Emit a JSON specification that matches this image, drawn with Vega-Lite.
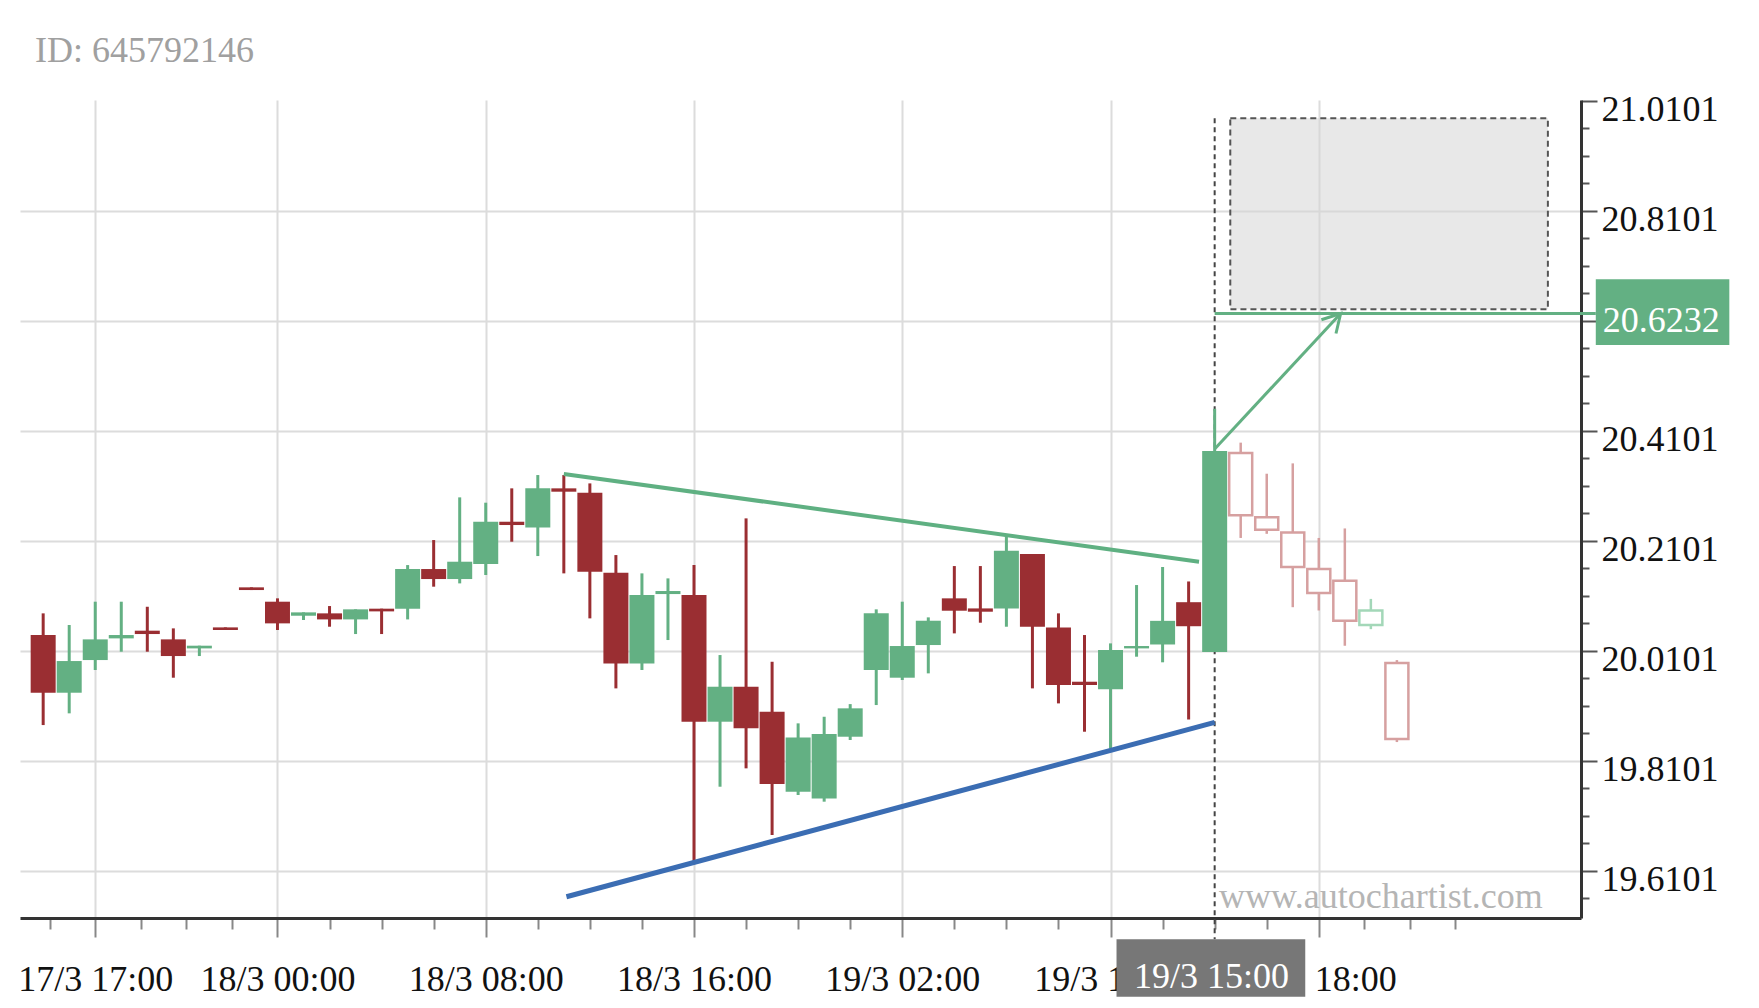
{
  "$schema": "https://vega.github.io/schema/vega-lite/v6.json",
  "width": 1561,
  "height": 818,
  "autosize": {"type": "none"},
  "padding": {"left": 20, "top": 100, "right": 178, "bottom": 90},
  "background": "white",
  "title": {"text": "ID: 645792146", "anchor": "start", "frame": "group", "font": "Liberation Serif", "fontSize": 36, "fontWeight": "normal", "color": "#a0a0a0", "baseline": "alphabetic", "offset": -6, "dx": 15},
  "config": {"view": {"stroke": null}},
  "datasets": {
    "candles": [
      {"i": 0, "o": 20.0386, "h": 20.0780, "l": 19.8749, "c": 19.9337},
      {"i": 1, "o": 19.9337, "h": 20.0568, "l": 19.8962, "c": 19.9913},
      {"i": 2, "o": 19.9931, "h": 20.0992, "l": 19.9750, "c": 20.0307},
      {"i": 3, "o": 20.0325, "h": 20.0992, "l": 20.0083, "c": 20.0386},
      {"i": 4, "o": 20.0465, "h": 20.0900, "l": 20.0083, "c": 20.0404},
      {"i": 5, "o": 20.0307, "h": 20.0507, "l": 19.9610, "c": 20.0004},
      {"i": 6, "o": 20.0143, "h": 20.0192, "l": 20.0004, "c": 20.0192},
      {"i": 7, "o": 20.0525, "h": 20.0525, "l": 20.0477, "c": 20.0477},
      {"i": 8, "o": 20.1253, "h": 20.1253, "l": 20.1204, "c": 20.1204},
      {"i": 9, "o": 20.0992, "h": 20.1053, "l": 20.0477, "c": 20.0598},
      {"i": 10, "o": 20.0737, "h": 20.0798, "l": 20.0659, "c": 20.0798},
      {"i": 11, "o": 20.0780, "h": 20.0913, "l": 20.0537, "c": 20.0670},
      {"i": 12, "o": 20.0670, "h": 20.0853, "l": 20.0404, "c": 20.0853},
      {"i": 13, "o": 20.0865, "h": 20.0865, "l": 20.0404, "c": 20.0816},
      {"i": 14, "o": 20.0865, "h": 20.1658, "l": 20.0670, "c": 20.1586},
      {"i": 15, "o": 20.1586, "h": 20.2113, "l": 20.1265, "c": 20.1404},
      {"i": 16, "o": 20.1404, "h": 20.2889, "l": 20.1325, "c": 20.1719},
      {"i": 17, "o": 20.1677, "h": 20.2792, "l": 20.1477, "c": 20.2446},
      {"i": 18, "o": 20.2446, "h": 20.3053, "l": 20.2083, "c": 20.2386},
      {"i": 19, "o": 20.2343, "h": 20.3295, "l": 20.1822, "c": 20.3053},
      {"i": 20, "o": 20.3053, "h": 20.3295, "l": 20.1507, "c": 20.2992},
      {"i": 21, "o": 20.2974, "h": 20.3143, "l": 20.0689, "c": 20.1537},
      {"i": 22, "o": 20.1519, "h": 20.1840, "l": 19.9416, "c": 19.9870},
      {"i": 23, "o": 19.9870, "h": 20.1507, "l": 19.9750, "c": 20.1113},
      {"i": 24, "o": 20.1131, "h": 20.1416, "l": 20.0295, "c": 20.1186},
      {"i": 25, "o": 20.1113, "h": 20.1658, "l": 19.6240, "c": 19.8810},
      {"i": 26, "o": 19.8810, "h": 20.0022, "l": 19.7628, "c": 19.9446},
      {"i": 27, "o": 19.9446, "h": 20.2507, "l": 19.7962, "c": 19.8689},
      {"i": 28, "o": 19.8990, "h": 19.9900, "l": 19.6750, "c": 19.7677},
      {"i": 29, "o": 19.7537, "h": 19.8780, "l": 19.7477, "c": 19.8525},
      {"i": 30, "o": 19.7416, "h": 19.8900, "l": 19.7356, "c": 19.8586},
      {"i": 31, "o": 19.8537, "h": 19.9130, "l": 19.8477, "c": 19.9053},
      {"i": 32, "o": 19.9750, "h": 20.0853, "l": 19.9113, "c": 20.0780},
      {"i": 33, "o": 19.9610, "h": 20.0992, "l": 19.9568, "c": 20.0186},
      {"i": 34, "o": 20.0204, "h": 20.0707, "l": 19.9689, "c": 20.0646},
      {"i": 35, "o": 20.1053, "h": 20.1640, "l": 20.0416, "c": 20.0828},
      {"i": 36, "o": 20.0870, "h": 20.1640, "l": 20.0610, "c": 20.0810},
      {"i": 37, "o": 20.0870, "h": 20.2174, "l": 20.0537, "c": 20.1919},
      {"i": 38, "o": 20.1859, "h": 20.1859, "l": 19.9416, "c": 20.0537},
      {"i": 39, "o": 20.0525, "h": 20.0780, "l": 19.9143, "c": 19.9477},
      {"i": 40, "o": 19.9537, "h": 20.0386, "l": 19.8628, "c": 19.9477},
      {"i": 41, "o": 19.9398, "h": 20.0234, "l": 19.8325, "c": 20.0113},
      {"i": 42, "o": 20.0143, "h": 20.1295, "l": 19.9992, "c": 20.0186},
      {"i": 43, "o": 20.0214, "h": 20.1623, "l": 19.9890, "c": 20.0644},
      {"i": 44, "o": 20.0983, "h": 20.1360, "l": 19.8850, "c": 20.0546},
      {"i": 45, "o": 20.0078, "h": 20.4500, "l": 20.0078, "c": 20.3733}
    ],
    "forecast": [
      {"i": 46, "o": 20.3696, "h": 20.3884, "l": 20.2151, "c": 20.2565},
      {"i": 47, "o": 20.2528, "h": 20.3319, "l": 20.2226, "c": 20.2301},
      {"i": 48, "o": 20.2249, "h": 20.3507, "l": 20.0892, "c": 20.1623},
      {"i": 49, "o": 20.1586, "h": 20.2151, "l": 20.0832, "c": 20.1148},
      {"i": 50, "o": 20.1375, "h": 20.2324, "l": 20.0191, "c": 20.0644},
      {"i": 51, "o": 20.0568, "h": 20.1043, "l": 20.0493, "c": 20.0832},
      {"i": 52, "o": 19.9877, "h": 19.9930, "l": 19.8440, "c": 19.8496}
    ],
    "resistance": [{"i": 20, "p": 20.3314}, {"i": 44.4, "p": 20.1720}],
    "support": [{"i": 20.1, "p": 19.5628}, {"i": 45, "p": 19.8797}],
    "arrow": [{"i": 45, "p": 20.377}, {"i": 49.84, "p": 20.6232}],
    "arrowhead": [{"k": 0, "i": 49.10, "p": 20.6119}, {"k": 1, "i": 49.84, "p": 20.6232}, {"k": 2, "i": 49.66, "p": 20.5868}],
    "target": [{"i": 45, "i2": 59.64, "p": 20.6232}],
    "zone": [{"i": 45.6, "i2": 57.8, "p": 20.978, "p2": 20.6308}],
    "breakout": [{"i": 45, "p": 20.978, "p2": 19.4854}],
    "pricebox": [{"i": 59.64, "i2": 64.77, "p": 20.6854, "p2": 20.5659, "tx": 62.15, "ty": 20.6096, "label": "20.6232"}],
    "timebox": [{"i": 41.23, "i2": 48.48, "p": 19.4854, "p2": 19.381, "tx": 44.88, "ty": 19.416, "label": "19/3 15:00"}],
    "watermark": [{"i": 57.6, "p": 19.562, "label": "www.autochartist.com"}]
  },
  "layer": [
    {
      "data": {"name": "zone"},
      "mark": {"type": "rect", "fill": "#d6d6d6", "fillOpacity": 0.55, "stroke": "#555555", "strokeWidth": 2, "strokeDash": [6, 4]},
      "encoding": {
        "x": {
          "field": "i", "type": "quantitative",
          "scale": {"domain": [-0.698, 58.88], "nice": false, "zero": false},
          "axis": {
            "orient": "bottom", "title": null, "zindex": 0, "tickCount": 60,
            "values": [0.25, 2, 3.75, 5.5, 7.25, 9, 11, 13, 15, 17, 19, 21, 23, 25, 27, 29, 31, 33, 35, 37, 39, 41, 43, 45, 47, 49, 50.75, 52.5, 54.25],
            "domainColor": "#333333", "domainWidth": 3,
            "grid": true, "gridColor": "#dcdcdc", "gridWidth": 2,
            "gridOpacity": {"condition": {"test": "indexof([2,9,17,25,33,41,49], datum.value) >= 0", "value": 1}, "value": 0},
            "ticks": true, "tickColor": "#888888", "tickWidth": 2,
            "tickSize": {"condition": {"test": "indexof([2,9,17,25,33,41,49], datum.value) >= 0", "value": 19}, "value": 11},
            "labelExpr": "datum.value == 2 ? '17/3 17:00' : datum.value == 9 ? '18/3 00:00' : datum.value == 17 ? '18/3 08:00' : datum.value == 25 ? '18/3 16:00' : datum.value == 33 ? '19/3 02:00' : datum.value == 41 ? '19/3 11:00' : datum.value == 49 ? '19/3 18:00' : ''",
            "labelFont": "Liberation Serif", "labelFontSize": 36, "labelColor": "#111111",
            "labelBaseline": "alphabetic", "labelPadding": 53,
            "labelOverlap": false, "labelFlush": false, "labelBound": false
          }
        },
        "x2": {"field": "i2"},
        "y": {
          "field": "p", "type": "quantitative",
          "scale": {"domain": [19.5241, 21.0114], "nice": false, "zero": false},
          "axis": {
            "orient": "right", "title": null, "zindex": 0, "tickCount": 60,
            "values": [19.5601, 19.6101, 19.6601, 19.7101, 19.7601, 19.8101, 19.8601, 19.9101, 19.9601, 20.0101, 20.0601, 20.1101, 20.1601, 20.2101, 20.2601, 20.3101, 20.3601, 20.4101, 20.4601, 20.5101, 20.5601, 20.6101, 20.6601, 20.7101, 20.7601, 20.8101, 20.8601, 20.9101, 20.9601, 21.0101],
            "domainColor": "#333333", "domainWidth": 3,
            "grid": true, "gridColor": "#dcdcdc", "gridWidth": 2,
            "gridOpacity": {"condition": {"test": "abs(datum.value*5 - 100.0505 - round(datum.value*5 - 100.0505)) < 0.01 && datum.value < 21", "value": 1}, "value": 0},
            "ticks": true, "tickColor": "#555555", "tickWidth": 2,
            "tickSize": {"condition": {"test": "abs(datum.value*5 - 100.0505 - round(datum.value*5 - 100.0505)) < 0.01", "value": 16}, "value": 8},
            "labelExpr": "abs(datum.value*5 - 100.0505 - round(datum.value*5 - 100.0505)) < 0.01 && abs(datum.value - 20.6101) > 0.001 ? format(datum.value, '.4f') : ''",
            "labelFont": "Liberation Serif", "labelFontSize": 36, "labelColor": "#111111",
            "labelBaseline": "middle", "labelOffset": 9, "labelPadding": 4,
            "labelOverlap": false, "labelFlush": false, "labelBound": false
          }
        },
        "y2": {"field": "p2"}
      }
    },
    {
      "data": {"name": "breakout"},
      "mark": {"type": "rule", "color": "#444444", "strokeWidth": 2, "strokeDash": [5, 4]},
      "encoding": {
        "x": {"field": "i", "type": "quantitative"},
        "y": {"field": "p", "type": "quantitative"},
        "y2": {"field": "p2"}
      }
    },
    {
      "data": {"name": "candles"},
      "mark": {"type": "rule", "strokeWidth": 3},
      "encoding": {
        "x": {"field": "i", "type": "quantitative"},
        "y": {"field": "l", "type": "quantitative"},
        "y2": {"field": "h"},
        "color": {"condition": {"test": "datum.c >= datum.o", "value": "#63b083"}, "value": "#9a2e32"}
      }
    },
    {
      "data": {"name": "candles"},
      "mark": {"type": "bar", "size": 25},
      "encoding": {
        "x": {"field": "i", "type": "quantitative"},
        "y": {"field": "o", "type": "quantitative"},
        "y2": {"field": "c"},
        "color": {"condition": {"test": "datum.c >= datum.o", "value": "#63b083"}, "value": "#9a2e32"}
      }
    },
    {
      "data": {"name": "forecast"},
      "mark": {"type": "rule", "strokeWidth": 2.5},
      "encoding": {
        "x": {"field": "i", "type": "quantitative"},
        "y": {"field": "l", "type": "quantitative"},
        "y2": {"field": "h"},
        "color": {"condition": {"test": "datum.c >= datum.o", "value": "#a3d7b8"}, "value": "#d6a0a0"}
      }
    },
    {
      "data": {"name": "forecast"},
      "mark": {"type": "bar", "size": 23, "fill": "white", "strokeWidth": 2.5},
      "encoding": {
        "x": {"field": "i", "type": "quantitative"},
        "y": {"field": "o", "type": "quantitative"},
        "y2": {"field": "c"},
        "stroke": {"condition": {"test": "datum.c >= datum.o", "value": "#a3d7b8"}, "value": "#d6a0a0"}
      }
    },
    {
      "data": {"name": "resistance"},
      "mark": {"type": "line", "color": "#5fb082", "strokeWidth": 4},
      "encoding": {
        "x": {"field": "i", "type": "quantitative"},
        "y": {"field": "p", "type": "quantitative"}
      }
    },
    {
      "data": {"name": "support"},
      "mark": {"type": "line", "color": "#3b6db3", "strokeWidth": 5},
      "encoding": {
        "x": {"field": "i", "type": "quantitative"},
        "y": {"field": "p", "type": "quantitative"}
      }
    },
    {
      "data": {"name": "target"},
      "mark": {"type": "rule", "color": "#63b083", "strokeWidth": 3},
      "encoding": {
        "x": {"field": "i", "type": "quantitative"},
        "x2": {"field": "i2"},
        "y": {"field": "p", "type": "quantitative"}
      }
    },
    {
      "data": {"name": "arrow"},
      "mark": {"type": "line", "color": "#63b083", "strokeWidth": 3},
      "encoding": {
        "x": {"field": "i", "type": "quantitative"},
        "y": {"field": "p", "type": "quantitative"}
      }
    },
    {
      "data": {"name": "arrowhead"},
      "mark": {"type": "line", "color": "#63b083", "strokeWidth": 3},
      "encoding": {
        "x": {"field": "i", "type": "quantitative"},
        "y": {"field": "p", "type": "quantitative"},
        "order": {"field": "k"}
      }
    },
    {
      "data": {"name": "pricebox"},
      "mark": {"type": "rect", "fill": "#63b083"},
      "encoding": {
        "x": {"field": "i", "type": "quantitative"},
        "x2": {"field": "i2"},
        "y": {"field": "p", "type": "quantitative"},
        "y2": {"field": "p2"}
      }
    },
    {
      "data": {"name": "pricebox"},
      "mark": {"type": "text", "color": "white", "font": "Liberation Serif", "fontSize": 36, "align": "center", "baseline": "middle"},
      "encoding": {
        "x": {"field": "tx", "type": "quantitative"},
        "y": {"field": "ty", "type": "quantitative"},
        "text": {"field": "label"}
      }
    },
    {
      "data": {"name": "timebox"},
      "mark": {"type": "rect", "fill": "#777777"},
      "encoding": {
        "x": {"field": "i", "type": "quantitative"},
        "x2": {"field": "i2"},
        "y": {"field": "p", "type": "quantitative"},
        "y2": {"field": "p2"}
      }
    },
    {
      "data": {"name": "timebox"},
      "mark": {"type": "text", "color": "white", "font": "Liberation Serif", "fontSize": 36, "align": "center", "baseline": "middle"},
      "encoding": {
        "x": {"field": "tx", "type": "quantitative"},
        "y": {"field": "ty", "type": "quantitative"},
        "text": {"field": "label"}
      }
    },
    {
      "data": {"name": "watermark"},
      "mark": {"type": "text", "color": "#b5b5b5", "font": "Liberation Serif", "fontSize": 36, "align": "right", "baseline": "middle"},
      "encoding": {
        "x": {"field": "i", "type": "quantitative"},
        "y": {"field": "p", "type": "quantitative"},
        "text": {"field": "label"}
      }
    }
  ]
}
